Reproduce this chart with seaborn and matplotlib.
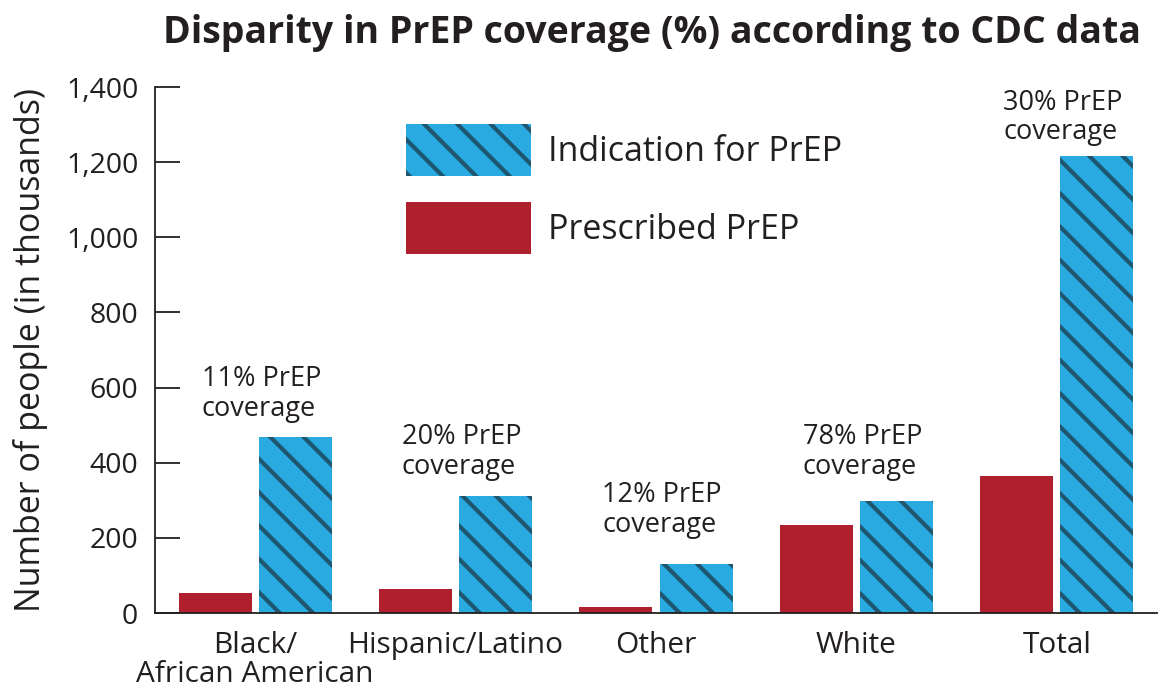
import pandas as pd
import matplotlib
matplotlib.use("Agg")
import matplotlib.pyplot as plt
import matplotlib.patches as mpatches
import seaborn as sns

# data (thousands of people)
groups = ["Black/\nAfrican American", "Hispanic/Latino", "Other", "White", "Total"]
prescribed = [52, 64, 16, 235, 365]
indication = [469, 312, 131, 299, 1216]
coverage_labels = ["11% PrEP\ncoverage", "20% PrEP\ncoverage", "12% PrEP\ncoverage",
                   "78% PrEP\ncoverage", "30% PrEP\ncoverage"]
label_heights = [582, 429, 274, 429, 1319]

series_names = ["Prescribed PrEP", "Indication for PrEP"]
red = "#B01F2E"
blue = "#29ABE2"
hatch_col = "#1F5670"
ink = "#231F20"

df = pd.DataFrame({
    "group": groups * 2,
    "series": [series_names[0]] * len(groups) + [series_names[1]] * len(groups),
    "value": prescribed + indication,
})

sns.set_style("white")
plt.rcParams["font.family"] = ["Open Sans", "DejaVu Sans"]
plt.rcParams["hatch.linewidth"] = 3.0
plt.rcParams["text.color"] = ink

fig = plt.figure(figsize=(11.64, 6.92), dpi=100)
ax = fig.add_axes([155 / 1164, 79 / 692, 1002 / 1164, 526 / 692])

sns.barplot(data=df, x="group", y="value", hue="series", hue_order=series_names,
            order=groups, palette=[red, blue], width=0.8, gap=0.09,
            saturation=1, legend=False, ax=ax)

for bar in ax.containers[1]:
    bar.set_hatch("\\")
    bar.set_edgecolor(hatch_col)
    bar.set_linewidth(0)
for bar in ax.containers[0]:
    bar.set_linewidth(0)

for i, (txt, h) in enumerate(zip(coverage_labels, label_heights)):
    ax.text(i + 0.03, h, txt, ha="center", va="center", multialignment="left",
            fontsize=19.5, linespacing=1.08, color=ink)

ax.set_xlim(-0.5, 4.5)
ax.set_ylim(0, 1400)
ax.set_yticks(range(0, 1401, 200))
ax.set_yticklabels([f"{v:,}" for v in range(0, 1401, 200)], fontsize=20.5, color=ink)

# first line as tick label, any second line as its own text underneath
ax.set_xticks(range(len(groups)))
ax.set_xticklabels([g.split("\n")[0] for g in groups], fontsize=21.5, color=ink)
for i, g in enumerate(groups):
    if "\n" in g:
        ax.annotate(g.split("\n", 1)[1], xy=(i, 0), xycoords=("data", "axes fraction"),
                    xytext=(0, -34), textcoords="offset points", ha="center", va="top",
                    fontsize=21.5, color=ink, annotation_clip=False)

ax.set_xticks([i + 0.5 for i in range(len(groups))], minor=True)
ax.tick_params(axis="x", which="major", length=0, pad=13)
ax.tick_params(axis="x", which="minor", direction="in", length=10, width=1.3, color=ink)
ax.tick_params(axis="y", direction="in", length=18, width=1.3, color=ink, pad=12, left=True)
ax.set_xlabel("")
ax.set_ylabel("Number of people (in thousands)", fontsize=24.5, color=ink, labelpad=13)

sns.despine(ax=ax)
for side in ["left", "bottom"]:
    ax.spines[side].set_color(ink)
    ax.spines[side].set_linewidth(1.3)

handles = [
    mpatches.Patch(facecolor=blue, edgecolor=hatch_col, hatch="\\", linewidth=0, label=series_names[1]),
    mpatches.Patch(facecolor=red, linewidth=0, label=series_names[0]),
]
fig.legend(handles=handles, loc="upper left", bbox_to_anchor=(406 / 1164, 1 - 124 / 692),
           frameon=False, fontsize=24.5, handlelength=3.68, handleheight=1.98,
           labelspacing=0.76, handletextpad=0.5, borderpad=0, borderaxespad=0)

fig.text(652 / 1164, 1 - 33 / 692, "Disparity in PrEP coverage (%) according to CDC data",
         ha="center", va="center", fontsize=27, fontweight="bold", color=ink)

fig.savefig("out.png", dpi=100)
